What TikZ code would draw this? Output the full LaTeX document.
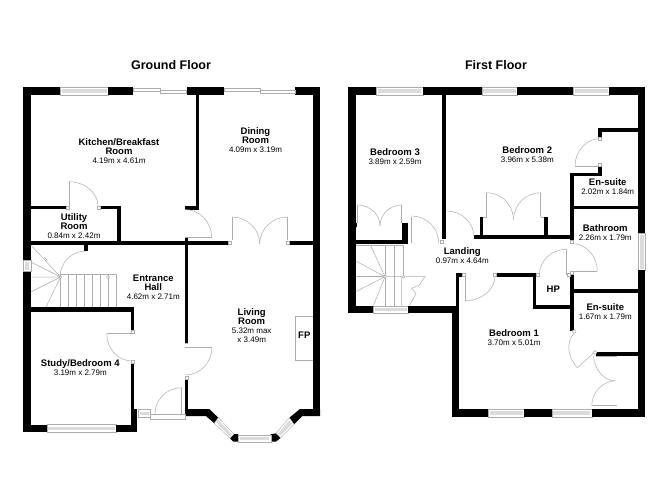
\documentclass[tikz,border=0pt]{standalone}
\usepackage{fontspec}
\setmainfont{Liberation Sans}
\usetikzlibrary{calc}
\definecolor{doorgray}{gray}{0.68}
\definecolor{wingray}{gray}{0.86}
\tikzset{
  plan/.style={x=1pt,y=-1pt},
  wallfill/.style={fill=black,draw=none},
  doorline/.style={draw=doorgray,line width=0.5pt},
  winframe/.style={draw=doorgray,line width=0.4pt,fill=white},
  winpane/.style={fill=wingray,draw=none},
  roomtext/.style={align=center,inner sep=0pt,font=\fontsize{9.5}{9}\selectfont},
  title/.style={inner sep=0pt,font=\fontsize{12.5}{14}\selectfont\bfseries},
}
\newcommand\wl[4]{\fill[wallfill] (#1,#2) rectangle (#3,#4);}
\newcommand\winh[4]{\draw[winframe] (#1,#2) rectangle (#3,#4);
  \fill[winpane] (#1+1.5,#2+2.2) rectangle (#3-1.5,#4-2.2);}
\newcommand\winv[4]{\draw[winframe] (#1,#2) rectangle (#3,#4);
  \fill[winpane] (#1+1.6,#2+1.5) rectangle (#3-1.6,#4-1.5);}
\newcommand\qarc[3]{\draw[doorline] (#1) .. controls ($(#1)!.5523!(#2)$) and ($(#3)!.5523!(#2)$) .. (#3);}
\newcommand\jamb[2]{\draw[doorline,fill=white,line width=.4pt] (#1-1.4,#2-1.4) rectangle (#1+1.4,#2+1.4);}
\newcommand\dimf{\fontsize{8}{9}\selectfont}
\newcommand\rlab[5]{\node[roomtext] (#1) at (#2,#3) {\bfseries #4\\\dimf #5};}
\newcommand\rlabb[6]{\node[roomtext] (#1) at (#2,#3) {\bfseries #4\\\bfseries #5\\\dimf #6};}
\begin{document}
\begin{tikzpicture}[plan]
\useasboundingbox (0,0) rectangle (668,486);
\fill[white] (0,0) rectangle (668,486);
\node[title] (gf) at (171,65) {Ground Floor};
\node[title] (ff) at (496,65) {First Floor};

%% ===== GROUND FLOOR =====
% outer walls
\wl{23.3}{87.3}{60}{94.7}
\winh{60}{87}{108.3}{95}
\wl{108.3}{87.3}{133.3}{94.7}
\wl{187}{87.3}{224}{94.7}
\wl{295}{87.3}{320}{94.7}
\wl{23.3}{87.3}{30.7}{260}
\wl{23.3}{271}{30.7}{431.7}
\winv{23.3}{260}{30.7}{271}
\wl{312.7}{87.3}{320}{416}
\wl{23.3}{425}{46.7}{431.7}
\winh{46.7}{424.5}{116}{432}
\wl{116}{425}{137.3}{431.7}
\wl{130.7}{409}{137.3}{431.7}
% sliding doors
\draw[doorline,fill=white] (133.3,88.5) rectangle (160,91.5);
\draw[doorline,fill=white] (160,90.5) rectangle (186.7,93.5);
\draw[doorline,fill=white] (224,88.5) rectangle (260,91.5);
\draw[doorline,fill=white] (260,90.5) rectangle (295,93.5);
% internal walls
\wl{30}{206}{65.7}{209.3}
\wl{100}{206}{121}{209.3}
\wl{117.3}{206}{121}{241}
\wl{30}{240.5}{228}{244.5}
\wl{289.5}{240.5}{313}{244.5}
\wl{84}{240.5}{88}{250.7}
\wl{195.7}{94}{199}{210}
\wl{185}{206}{199}{210}
\wl{185}{237}{188.3}{343}
\wl{185}{376.7}{188.3}{416}
\wl{23.3}{306.7}{134.3}{311.7}
\wl{130.7}{306.7}{134.3}{330}
\wl{130.7}{363}{134.3}{431}
% bay
\fill[wallfill] (185,409) -- (209.3,409) -- (218.3,417.7) -- (214.3,423.3) -- (206,416) -- (185,416) -- cycle;
\fill[wallfill] (234,434) -- (238.3,434.3) -- (238.3,441.7) -- (233.3,441.7) -- (230,438.3) -- cycle;
\fill[wallfill] (270.7,434.3) -- (276,433.3) -- (280.7,437.7) -- (276,441.7) -- (270.7,441.7) -- cycle;
\fill[wallfill] (289.3,417.7) -- (294,424.3) -- (302.3,416) -- (320,416) -- (320,409) -- (300,409) -- cycle;
\draw[winframe] (214.3,423.3) -- (218.3,417.7) -- (234,434) -- (230,438.3) -- cycle;
\fill[winpane] (216,422.5) -- (218,419.7) -- (232.3,434.5) -- (230.2,436.5) -- cycle;
\winh{238.3}{435}{270.7}{442.3}
\draw[winframe] (276,433.3) -- (289.3,417.7) -- (294,424.3) -- (280.7,437.7) -- cycle;
\fill[winpane] (277.8,434) -- (289.5,420) -- (292,424) -- (280.5,435.7) -- cycle;
% porch
\winh{138.3}{409.5}{150}{416.7}
\draw[doorline,fill=white] (150.7,414) rectangle (185,419);
\draw[doorline] (181.7,387.7) -- (181.7,414);
\qarc{181.7,387.7}{155,387.7}{155,414}
% fireplace
\draw[doorline,fill=white] (312.7,316) -- (295,316) -- (295,360.7) -- (312.7,360.7);
\node[inner sep=0pt,font=\fontsize{9.5}{10}\selectfont\bfseries] (fp) at (304.3,335.3) {FP};
% doors
\draw[doorline] (69,206.5) -- (69,181.7);
\qarc{69,181.7}{98,181.7}{98,206.5}
\jamb{67.3}{207.8}\jamb{98.5}{207.8}
\draw[doorline] (185,237.3) -- (211.7,237.3);
\qarc{184.7,209.5}{211.7,209.5}{211.7,237.3}
\draw[doorline] (185,347.3) -- (212,347.3);
\qarc{212,347.3}{212,375}{185,375}
\draw[doorline] (185,343) -- (188.3,343) (185,347.3) -- (188.3,347.3);
\jamb{186.7}{378}
\draw[doorline] (132,333.7) -- (106.7,333.7);
\qarc{106.7,333.7}{106.7,361}{132,361}
\jamb{132.5}{331.5}\jamb{132.5}{362}
% double doors dining/living
\draw[doorline] (232,240) -- (232,217) (287.5,240) -- (287.5,217);
\qarc{232,217}{259.7,217}{259.7,244}
\qarc{287.5,217}{259.7,217}{259.7,244}
\jamb{230}{242.5}\jamb{288}{242.5}
% stairs
\foreach \tx in {60.7,68.7,76.7,84.7,92.7,100.7,108.7,116.7}{\draw[doorline] (\tx,274.3) -- (\tx,307);}
\draw[doorline] (60.7,274.3) -- (116.7,274.3);
\draw[doorline] (60.7,277) -- (30.7,245) (60.7,277) -- (30.7,262) (60.7,277) -- (30.7,277) (60.7,277) -- (30.7,292) (60.7,277) -- (46,307);
\draw[doorline,fill=white] (60.7,277) circle (1.4) (108,277) circle (1.4);
\qarc{86,251}{60,251}{60,277}
\draw[doorline] (44,257) -- (47,260) -- (46.5,261.5);

% labels ground
\rlabb{kit}{119}{151.5}{Kitchen/Breakfast}{Room}{4.19m x 4.61m}
\rlabb{din}{255.5}{140}{Dining}{Room}{4.09m x 3.19m}
\rlabb{uti}{74}{225.7}{Utility}{Room}{0.84m x 2.42m}
\rlabb{ent}{153.3}{287}{Entrance}{Hall}{4.62m x 2.71m}
\rlab{stu}{80.3}{368}{Study/Bedroom 4}{3.19m x 2.79m}
\node[roomtext] (liv) at (251.7,326) {\bfseries Living\\\bfseries Room\\\dimf 5.32m max\\\dimf x 3.49m};

%% ===== FIRST FLOOR =====
\wl{348.3}{87.3}{376}{94.7}
\winh{376}{87}{422.7}{95}
\wl{422.7}{87.3}{481.7}{94.7}
\winh{481.7}{87}{517.3}{95}
\wl{517.3}{87.3}{573.3}{94.7}
\winh{573.3}{87}{609.3}{95}
\wl{609.3}{87.3}{645.3}{94.7}
\wl{348.3}{87.3}{355.7}{313.3}
\wl{637.7}{87.3}{645.3}{233.3}
\winv{638}{233.3}{645.5}{270}
\wl{637.7}{270}{645.3}{416.7}
\wl{348.3}{306.3}{373.3}{313.3}
\winh{373.3}{306}{408.3}{313.5}
\wl{408.3}{305.7}{459}{313.3}
\wl{451.7}{305.7}{459}{416.7}
\wl{455.7}{273.3}{459}{306}
\wl{455.7}{273.3}{462}{277}
\wl{451.7}{409}{488.3}{416.7}
\winh{488.3}{409}{524}{416.7}
\wl{524}{409}{551.7}{416.7}
\winh{551.7}{409}{591.7}{416.7}
\wl{591.7}{409}{645.3}{416.7}
% internal
\wl{441.7}{94}{445.7}{239.3}
\jamb{441.7}{241.5}
\wl{355}{240}{408}{244}
\wl{402.3}{222.7}{407.7}{244}
\wl{355}{222.7}{357.3}{226.7}
\wl{474.3}{235}{571.7}{238.8}
\wl{480}{216.7}{483.3}{236}
\wl{544.3}{216.7}{547.7}{236}
\wl{598.3}{128.3}{638}{131.7}
\wl{598.3}{128.3}{601.7}{137}
\wl{598.3}{167}{601.7}{176}
\wl{570}{172.7}{601.7}{176}
\wl{570}{172.7}{573.5}{240}
\wl{570}{206}{638}{208.7}
\wl{570}{274.3}{573.7}{331}
\wl{573}{289.3}{638}{293}
\wl{532.7}{305}{573}{309}
\wl{532.7}{273.3}{536}{309}
\wl{496.7}{273.3}{536}{276.7}
\wl{595.7}{352.3}{638}{355.7}
% doors first floor
\draw[doorline] (411.7,216.7) -- (411.7,243);
\qarc{411.7,216}{438.7,216}{438.7,243}
\qarc{446.7,211}{474,211}{474,237}
% cupboard bed 3
\draw[doorline] (357.5,205) -- (357.5,222.7) (401.7,205) -- (401.7,222.7);
\qarc{357.5,205}{380,205}{380,226}
\qarc{401.7,205}{380,205}{380,226}
% cupboard bed 2
\draw[doorline] (486.7,192.7) -- (486.7,217) (483.3,217) -- (486.7,217) (540.7,192.7) -- (540.7,217) (540.7,217) -- (544.3,217);
\qarc{486.7,192.7}{513.5,192.7}{513.5,220}
\qarc{540.7,192.7}{513.5,192.7}{513.5,220}
% ensuite 2 door
\draw[doorline] (575,166) -- (600.7,166);
\qarc{600.7,138.5}{575,138.5}{575,166}
\jamb{600}{138.5}\jamb{600}{165}
% bathroom door
\draw[doorline] (571.5,271) -- (597.3,271);
\qarc{571.5,243.5}{597.3,243.5}{597.3,271}
\jamb{571.8}{242}\jamb{571.8}{273}
% HP door
\draw[doorline] (566.7,249.3) -- (566.7,275);
\qarc{566.7,249.3}{539.3,249.3}{539.3,275}
\jamb{538}{275}
\jamb{568.3}{275}
% bed 1 door
\draw[doorline] (465.3,276.7) -- (465.3,300.7);
\qarc{465.3,300.7}{495,300.7}{495,276}
\jamb{464}{275}\jamb{495}{275}
% ensuite 1 door
\draw[doorline] (593.3,353.3) -- (577.3,367.7);
\draw[doorline] (577.3,367.7) .. controls (567,356) and (566,342) .. (574.3,332.7);
\draw[doorline,fill=white] (572.2,331) -- (574.5,329.5) -- (576,332) -- (573.7,333.5) -- cycle;
\draw[doorline,fill=white] (593,352.3) -- (595.3,350.5) -- (597,352.7) -- (594.7,354.5) -- cycle;
% cupboard bed 1
\draw[doorline] (596,356.7) -- (616.7,356.7) (591.7,405.7) -- (616.7,405.7);
\qarc{593.5,356}{595,380.7}{615,380.7}
\qarc{615,380.7}{592,382}{591.7,405.7}
% stairs first floor
\draw[doorline] (355.7,245) -- (403.3,245);
\foreach \ex/\ey in {370.7/245.7,355.7/261,355.7/276.7,355.7/291.7,373.3/305.7}{\draw[doorline] (385,276.7) -- (\ex,\ey);}
\draw[doorline] (385.7,245) -- (385.7,306) (394,245) -- (394,306) (403.3,245) -- (403.3,276.7);
\draw[doorline] (401.7,276.7) -- (401.7,306) (409.3,305.7) -- (416,293.3) -- (411.7,288.3) -- (419.3,285) -- (425,276.7) -- (385,276.7);
\draw[doorline,fill=white] (385,276.7) circle (1.4) (403.3,276.7) circle (1.4);

% labels first
\rlab{b3}{395}{156.5}{Bedroom 3}{3.89m x 2.59m}
\rlab{b2}{527.3}{154.2}{Bedroom 2}{3.96m x 5.38m}
\rlab{es2}{607.7}{186.8}{En-suite}{2.02m x 1.84m}
\rlab{bath}{605.2}{232.7}{Bathroom}{2.26m x 1.79m}
\rlab{land}{462.3}{255.3}{Landing}{0.97m x 4.64m}
\node[inner sep=0pt,font=\fontsize{9.5}{10}\selectfont\bfseries] (hp) at (553.3,289) {HP};
\rlab{es1}{605.3}{311.8}{En-suite}{1.67m x 1.79m}
\rlab{b1}{514}{338}{Bedroom 1}{3.70m x 5.01m}
\end{tikzpicture}
\end{document}
